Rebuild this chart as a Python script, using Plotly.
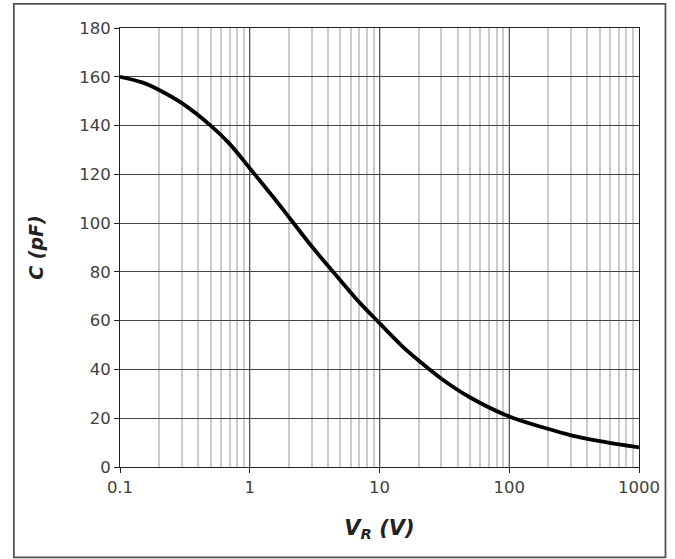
import plotly.graph_objects as go

# Reverse voltage (V) and capacitance (pF)
v_r = [0.1, 0.15, 0.2, 0.3, 0.5, 0.7, 1, 1.5, 2, 3, 5, 7, 10, 15, 20, 30, 50, 100, 200, 300, 500, 1000]
cap_pf = [160, 157.6, 154.6, 149.2, 140, 132.5, 122.5, 111, 102.5, 90.5, 76.5, 67.5, 59, 49.5, 43.7,
          36.2, 28.5, 20.7, 15.6, 13, 10.6, 8]

x_ticks = [0.1, 1, 10, 100, 1000]
x_tick_text = ["0.1", "1", "10", "100", "1000"]
y_ticks = [0, 20, 40, 60, 80, 100, 120, 140, 160, 180]

FONT = "DejaVu Sans"
TICK_COLOR = "#404040"

fig = go.Figure()
fig.add_trace(go.Scatter(
    x=v_r, y=cap_pf, mode="lines",
    line=dict(color="black", width=3.8, shape="spline", smoothing=1.0),
    showlegend=False, hoverinfo="skip",
))

fig.update_layout(
    width=675, height=559,
    margin=dict(l=120, r=36, t=28, b=92, pad=0),
    paper_bgcolor="white", plot_bgcolor="white",
    font=dict(family=FONT, color=TICK_COLOR, size=16),
    xaxis=dict(
        type="log", range=[-1, 3],
        tickvals=x_ticks, ticktext=x_tick_text,
        showgrid=True, gridcolor="#555555", gridwidth=1,
        minor=dict(dtick="D1", showgrid=True, gridcolor="#cccccc", gridwidth=1.5, ticks=""),
        showline=True, linecolor="#222222", linewidth=1, mirror=True,
        ticks="outside", ticklen=5, tickcolor="#222222",
        tickfont=dict(family=FONT, size=16.5, color=TICK_COLOR),
        zeroline=False,
        title=dict(text="<b><i>V<sub>R</sub> (V)</i></b>",
                   font=dict(family=FONT, size=21, color="#222222"), standoff=24),
    ),
    yaxis=dict(
        range=[0, 180], tickvals=y_ticks,
        showgrid=True, gridcolor="#444444", gridwidth=1,
        showline=True, linecolor="#222222", linewidth=1, mirror=True,
        ticks="outside", ticklen=5, tickcolor="#222222",
        tickfont=dict(family=FONT, size=16.5, color=TICK_COLOR),
        zeroline=False,
        title=dict(text="<b><i>C (pF)</i></b>",
                   font=dict(family=FONT, size=19, color="#222222"), standoff=30),
    ),
    shapes=[dict(
        type="rect", xref="paper", yref="paper",
        x0=-0.2045, x1=1.051, y0=-0.206, y1=1.055,
        line=dict(color="#555555", width=1.8), fillcolor="rgba(0,0,0,0)", layer="below",
    )],
)

fig.write_html("out.html")
